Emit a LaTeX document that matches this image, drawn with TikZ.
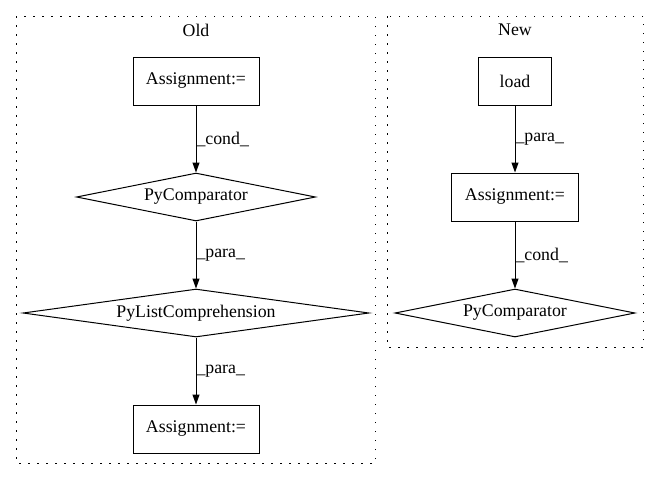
\documentclass[tikz,border=0pt]{standalone}
\usepackage{fontspec}
\setmainfont{Liberation Serif}
\usetikzlibrary{shapes.geometric,arrows.meta,positioning}

\begin{document}
\begin{tikzpicture}[x=1pt,y=-1pt,
	every node/.style={font=\fontsize{17.8}{20}\selectfont},
	box/.style={draw,rectangle,line width=1pt,inner sep=0pt,minimum height=48pt},
	cmp/.style={draw,diamond,line width=1pt,aspect=5,inner sep=0pt,minimum height=48pt},
	flow/.style={-{Triangle[length=10pt,width=7pt]},line width=1pt},
	lbl/.style={right,inner sep=0pt},
	cluster/.style={line width=1pt,dash pattern=on 1.5pt off 7.5pt}]
		\useasboundingbox (0,0) rectangle (659,480);
		% clusters
		\draw[cluster] (16,16) rectangle (375,463);
		\draw[cluster] (387,16) rectangle (643,347);
		\node (oldlbl) at (196,30) {Old};
		\node (newlbl) at (515,30) {New};
		% old version
		\node[box,minimum width=126pt] (oldassign) at (196,81) {Assignment:=};
		\node[cmp,minimum width=239pt] (oldcmp) at (196,197) {PyComparator};
		\node[cmp,minimum width=346pt,aspect=7] (listcomp) at (196,313) {PyListComprehension};
		\node[box,minimum width=126pt] (oldresult) at (196,429) {Assignment:=};
		\draw[flow] (oldassign) -- node[lbl] {\_cond\_} (oldcmp);
		\draw[flow] (oldcmp) -- node[lbl] {\_para\_} (listcomp);
		\draw[flow] (listcomp) -- node[lbl] {\_para\_} (oldresult);
		% new version
		\node[box,minimum width=73pt] (load) at (515,81) {load};
		\node[box,minimum width=127pt] (newassign) at (515,197) {Assignment:=};
		\node[cmp,minimum width=240pt] (newcmp) at (515,313) {PyComparator};
		\draw[flow] (load) -- node[lbl] {\_para\_} (newassign);
		\draw[flow] (newassign) -- node[lbl] {\_cond\_} (newcmp);
	\end{tikzpicture}
\end{document}
